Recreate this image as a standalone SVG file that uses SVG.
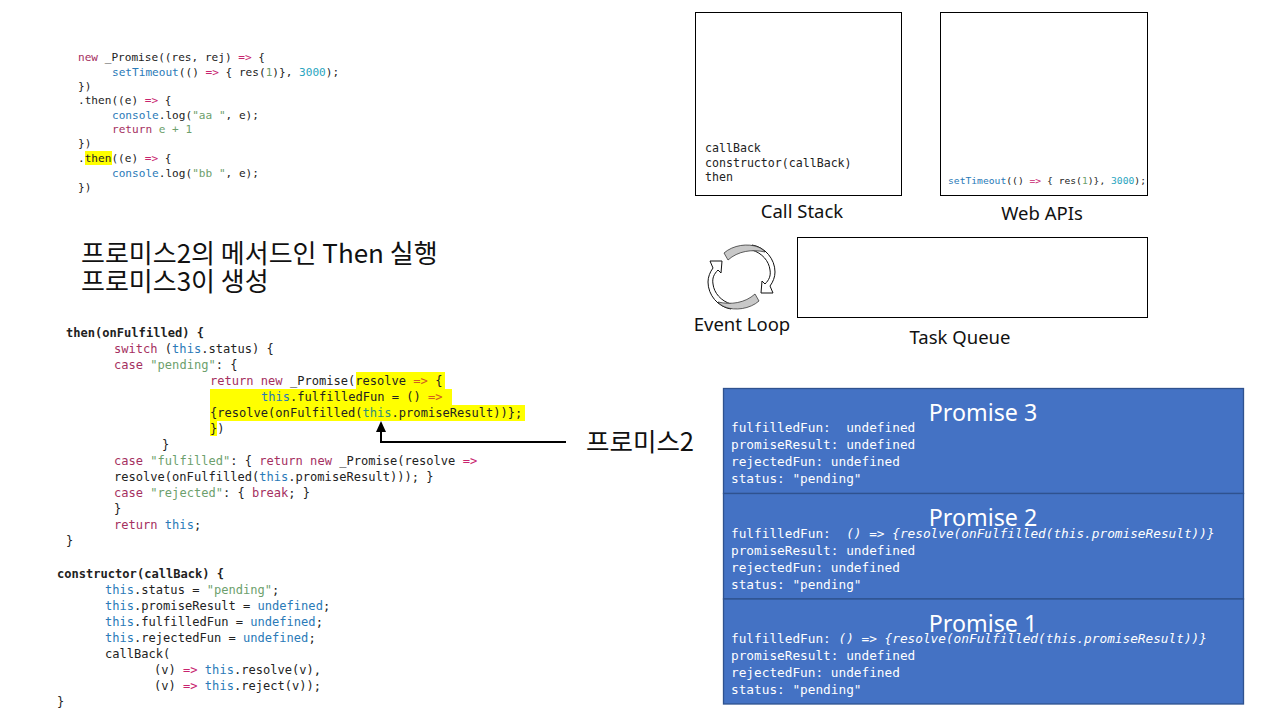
<svg xmlns="http://www.w3.org/2000/svg" width="1280" height="720" viewBox="0 0 1280 720">
<style>
text{white-space:pre}
.c{font-family:"DejaVu Sans Mono","Liberation Mono",monospace;font-size:11.1px;fill:#222}
.d{font-family:"DejaVu Sans Mono","Liberation Mono",monospace;font-size:12.07px;fill:#222}
.k{fill:#a5305f}.b{fill:#2a7ab8}.g{fill:#6d9f6d}.n{fill:#2aa5c0}.o{fill:#c8246e}
.kr{font-family:"Noto Sans CJK KR",sans-serif;font-size:26px;font-weight:400;fill:#111}
.lb{font-family:"Noto Sans","Open Sans",sans-serif;font-size:18.5px;fill:#111;text-anchor:middle}
.box{fill:#fff;stroke:#000;stroke-width:1}
.p{fill:#4472c4;stroke:#2f528f;stroke-width:1.3}
.pt{font-family:"Noto Sans","Open Sans",sans-serif;font-size:23.2px;fill:#fff;text-anchor:middle}
.pc{font-family:"DejaVu Sans Mono","Liberation Mono",monospace;font-size:12.75px;fill:#fff}
.i{font-style:italic}
.y{fill:#ffff00}
.gr{fill:#c8c8c8;stroke:#222;stroke-width:.7}
.wh{fill:#fff;stroke:#111;stroke-width:1}
</style>
<defs>
<marker id="ah" markerUnits="userSpaceOnUse" markerWidth="11" markerHeight="10" refX="7" refY="5" orient="auto" viewBox="0 0 11 10"><path d="M0 0L11 5L0 10Z" fill="#000"/></marker>
<g id="loop-arrow">
<path class="wh" d="M752 245C765 247 775 259 775 272C775 277 773 282 770 286L773 293L761 293L762 281L765 284C769 280 771 276 770 270C769 261 762 253 752 250Z"/>
<path class="gr" d="M724 253C733 245 748 243 758 247C761 248 763 250 765 252C752 249 738 251 728 260Z"/>
</g>
</defs>
<rect width="1280" height="720" fill="#fff"/>

<g id="code-top">
<rect class="y" x="85" y="151" width="27" height="14"/>
<text class="c" x="78" y="61"><tspan class="k">new</tspan> _Promise((res, rej) <tspan class="o">=&gt;</tspan> {</text>
<text class="c" x="112" y="76"><tspan class="b">setTimeout</tspan>(() <tspan class="o">=&gt;</tspan> { res(<tspan class="g">1</tspan>)}, <tspan class="n">3000</tspan>);</text>
<text class="c" x="78" y="90">})</text>
<text class="c" x="78" y="104">.then((e) <tspan class="o">=&gt;</tspan> {</text>
<text class="c" x="112" y="119"><tspan class="b">console</tspan>.log(<tspan class="g">"aa "</tspan>, e);</text>
<text class="c" x="112" y="133"><tspan class="k">return</tspan> <tspan class="g">e + 1</tspan></text>
<text class="c" x="78" y="147">})</text>
<text class="c" x="78" y="162">.then((e) <tspan class="o">=&gt;</tspan> {</text>
<text class="c" x="112" y="177"><tspan class="b">console</tspan>.log(<tspan class="g">"bb "</tspan>, e);</text>
<text class="c" x="78" y="191">})</text>
</g>

<g id="note">
<text class="kr" x="81" y="263">프로미스2의 메서드인 Then 실행</text>
<text class="kr" x="81" y="291">프로미스3이 생성</text>
</g>

<g id="code-then">
<rect class="y" x="356" y="372" width="89" height="17"/>
<rect class="y" x="210" y="389" width="242" height="16"/>
<rect class="y" x="210" y="405" width="315" height="16"/>
<rect class="y" x="210" y="421" width="7" height="15"/>
<text class="d" x="66" y="337" font-weight="700">then(onFulfilled) {</text>
<text class="d" x="114" y="353"><tspan class="k">switch</tspan> (<tspan class="b">this</tspan>.status) {</text>
<text class="d" x="114" y="369"><tspan class="k">case</tspan> <tspan class="g">"pending"</tspan>: {</text>
<text class="d" x="210" y="385"><tspan class="k">return new</tspan> _Promise(resolve <tspan fill="#d0601f">=&gt;</tspan> {</text>
<text class="d" x="261" y="401"><tspan class="b">this</tspan>.fulfilledFun = () <tspan fill="#d0601f">=&gt;</tspan></text>
<text class="d" x="210" y="417">{resolve(onFulfilled(<tspan fill="#2f8f7a">this</tspan>.promiseResult))};</text>
<text class="d" x="210" y="433">})</text>
<text class="d" x="162" y="449">}</text>
<text class="d" x="114" y="465"><tspan class="k">case</tspan> <tspan class="g">"fulfilled"</tspan>: { <tspan class="k">return new</tspan> _Promise(resolve <tspan class="o">=&gt;</tspan></text>
<text class="d" x="114" y="481">resolve(onFulfilled(<tspan class="b">this</tspan>.promiseResult))); }</text>
<text class="d" x="114" y="497"><tspan class="k">case</tspan> <tspan class="g">"rejected"</tspan>: { <tspan class="k">break</tspan>; }</text>
<text class="d" x="114" y="513">}</text>
<text class="d" x="114" y="529"><tspan class="k">return</tspan> <tspan class="b">this</tspan>;</text>
<text class="d" x="66" y="545">}</text>
</g>

<g id="code-constructor">
<text class="d" x="57" y="578" font-weight="700">constructor(callBack) {</text>
<text class="d" x="105" y="594"><tspan class="b">this</tspan>.status = <tspan class="g">"pending"</tspan>;</text>
<text class="d" x="105" y="610"><tspan class="b">this</tspan>.promiseResult = <tspan class="b">undefined</tspan>;</text>
<text class="d" x="105" y="626"><tspan class="b">this</tspan>.fulfilledFun = <tspan class="b">undefined</tspan>;</text>
<text class="d" x="105" y="642"><tspan class="b">this</tspan>.rejectedFun = <tspan class="b">undefined</tspan>;</text>
<text class="d" x="105" y="658">callBack(</text>
<text class="d" x="154" y="674">(v) <tspan class="o">=&gt;</tspan> <tspan class="b">this</tspan>.resolve(v),</text>
<text class="d" x="154" y="690">(v) <tspan class="o">=&gt;</tspan> <tspan class="b">this</tspan>.reject(v));</text>
<text class="d" x="57" y="706">}</text>
</g>

<g id="connectors">
<path d="M566 442H381V425" fill="none" stroke="#000" stroke-width="2" marker-end="url(#ah)"/>
</g>
<g id="label-promise2"><text class="kr" x="586" y="451" style="font-size:25.5px">프로미스2</text></g>

<g id="call-stack">
<rect class="box" x="695.5" y="12.5" width="206" height="183"/>
<text class="c" x="705" y="152" style="font-size:11.6px">callBack</text>
<text class="c" x="705" y="167" style="font-size:11.6px">constructor(callBack)</text>
<text class="c" x="705" y="181" style="font-size:11.6px">then</text>
<text class="lb" x="802" y="218">Call Stack</text>
</g>
<g id="web-apis">
<rect class="box" x="940.5" y="12.5" width="207" height="183"/>
<text class="c" x="948" y="184" style="font-size:8.9px" textLength="198" lengthAdjust="spacingAndGlyphs"><tspan class="b">setTimeout</tspan>(() <tspan class="o">=&gt;</tspan> { res(<tspan class="g">1</tspan>)}, <tspan class="n">3000</tspan>);</text>
<text class="lb" x="1042" y="220">Web APIs</text>
</g>
<g id="task-queue">
<rect class="box" x="797.5" y="237.5" width="350" height="80"/>
<text class="lb" x="960" y="344">Task Queue</text>
</g>
<g id="event-loop">
<use href="#loop-arrow"/>
<use href="#loop-arrow" transform="rotate(180 741.5 277)"/>
<text class="lb" x="742" y="331">Event Loop</text>
</g>

<g id="promise-3">
<rect class="p" x="723.5" y="388.5" width="520" height="105"/>
<text class="pt" x="983" y="421">Promise 3</text>
<text class="pc" x="731" y="432">fulfilledFun:  undefined</text>
<text class="pc" x="731" y="449">promiseResult: undefined</text>
<text class="pc" x="731" y="466">rejectedFun: undefined</text>
<text class="pc" x="731" y="483">status: "pending"</text>
</g>
<g id="promise-2">
<rect class="p" x="723.5" y="493.5" width="520" height="105.5"/>
<text class="pt" x="983" y="526">Promise 2</text>
<text class="pc" x="731" y="538">fulfilledFun:  <tspan class="i">() =&gt; {resolve(onFulfilled(this.promiseResult))}</tspan></text>
<text class="pc" x="731" y="555">promiseResult: undefined</text>
<text class="pc" x="731" y="572">rejectedFun: undefined</text>
<text class="pc" x="731" y="589">status: "pending"</text>
</g>
<g id="promise-1">
<rect class="p" x="723.5" y="599" width="520" height="105"/>
<text class="pt" x="983" y="632">Promise 1</text>
<text class="pc" x="731" y="643">fulfilledFun: <tspan class="i">() =&gt; {resolve(onFulfilled(this.promiseResult))}</tspan></text>
<text class="pc" x="731" y="660">promiseResult: undefined</text>
<text class="pc" x="731" y="677">rejectedFun: undefined</text>
<text class="pc" x="731" y="694">status: "pending"</text>
</g>
</svg>
